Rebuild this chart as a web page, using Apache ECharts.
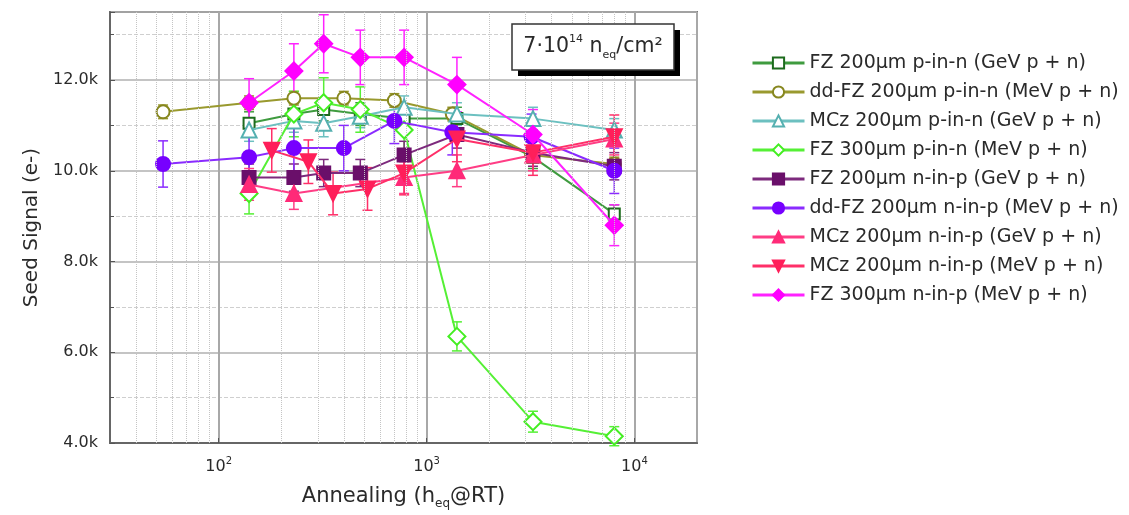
<!DOCTYPE html>
<html><head><meta charset="utf-8">
<script src="https://cdn.jsdelivr.net/npm/echarts@6/dist/echarts.min.js"></script>
<style>html,body{margin:0;padding:0;background:#fff}#c{width:1129px;height:515px}</style>
</head><body><div id="c"></div>
<script>
// ---- data (annealing time in h_eq@RT, seed signal in e-) ----
const minorX = [40,50,60,70,80,90,200,300,400,500,600,700,800,900,2000,3000,4000,5000,6000,7000,8000,9000];

const fz200pn_x = [140, 230, 320, 480, 780, 1400, 3250, 8000];
const fz200pn_y = [11050, 11250, 11350, 11250, 11150, 11150, 10300, 9050];
const fz200pn_e = [250, 250, 250, 250, 250, 250, 250, 200];

const ddfz200pn_x = [54, 140, 230, 400, 700, 1330, 3200, 8000];
const ddfz200pn_y = [11300, 11500, 11600, 11600, 11550, 11250, 10350, 10150];
const ddfz200pn_e = [150, 150, 150, 150, 150, 150, 150, 150];

const mcz200pn_x = [140, 230, 320, 480, 780, 1400, 3250, 8000];
const mcz200pn_y = [10900, 11100, 11050, 11200, 11400, 11250, 11150, 10900];
const mcz200pn_e = [250, 250, 300, 250, 250, 250, 250, 250];

const fz300pn_x = [140, 230, 320, 480, 780, 1400, 3250, 8000];
const fz300pn_y = [9500, 11250, 11500, 11350, 10900, 6350, 4470, 4150];
const fz300pn_e = [450, 500, 550, 500, 450, 320, 230, 210];

const fz200np_x = [140, 230, 320, 480, 780, 1400, 3250, 8000];
const fz200np_y = [9850, 9850, 9950, 9950, 10350, 10800, 10400, 10100];
const fz200np_e = [300, 300, 300, 300, 300, 300, 300, 300];

const ddfz200np_x = [54, 140, 230, 400, 700, 1330, 3200, 8000];
const ddfz200np_y = [10150, 10300, 10500, 10500, 11100, 10850, 10750, 10000];
const ddfz200np_e = [510, 500, 500, 500, 500, 500, 500, 500];

const mczgev_x = [140, 230, 780, 1400, 3250, 8000];
const mczgev_y = [9700, 9500, 9850, 10000, 10350, 10700];
const mczgev_e = [350, 350, 350, 350, 350, 350];

const mczmev_x = [180, 270, 355, 520, 780, 1400, 3250, 8000];
const mczmev_y = [10450, 10200, 9500, 9600, 9950, 10700, 10400, 10750];
const mczmev_e = [480, 480, 470, 470, 480, 500, 500, 480];

const fz300np_x = [140, 230, 320, 480, 780, 1400, 3250, 8000];
const fz300np_y = [11500, 12200, 12800, 12500, 12500, 11900, 10800, 8800];
const fz300np_e = [530, 600, 640, 600, 600, 600, 550, 450];

const names = [
  'FZ 200μm p-in-n (GeV p + n)',
  'dd-FZ 200μm p-in-n (MeV p + n)',
  'MCz 200μm p-in-n (GeV p + n)',
  'FZ 300μm p-in-n (MeV p + n)',
  'FZ 200μm n-in-p (GeV p + n)',
  'dd-FZ 200μm n-in-p (MeV p + n)',
  'MCz 200μm n-in-p (GeV p + n)',
  'MCz 200μm n-in-p (MeV p + n)',
  'FZ 300μm n-in-p (MeV p + n)'
];

const defs = [
  {x: fz200pn_x, y: fz200pn_y, e: fz200pn_e, line: '#3f9b3f', mark: '#1d6b1d', sym: 'emptyRect', size: 11, rot: 0},
  {x: ddfz200pn_x, y: ddfz200pn_y, e: ddfz200pn_e, line: '#99992e', mark: '#87871f', sym: 'emptyCircle', size: 13, rot: 0},
  {x: mcz200pn_x, y: mcz200pn_y, e: mcz200pn_e, line: '#6cc0c0', mark: '#55b0b0', sym: 'emptyTriangle', size: 15, rot: 0},
  {x: fz300pn_x, y: fz300pn_y, e: fz300pn_e, line: '#55f035', mark: '#44ee22', sym: 'emptyDiamond', size: 17, rot: 0},
  {x: fz200np_x, y: fz200np_y, e: fz200np_e, line: '#7d2a7d', mark: '#6a0f6a', sym: 'rect', size: 13, rot: 0},
  {x: ddfz200np_x, y: ddfz200np_y, e: ddfz200np_e, line: '#8a2bff', mark: '#7700ff', sym: 'circle', size: 14, rot: 0},
  {x: mczgev_x, y: mczgev_y, e: mczgev_e, line: '#ff3d85', mark: '#ff2a78', sym: 'triangle', size: 15, rot: 0},
  {x: mczmev_x, y: mczmev_y, e: mczmev_e, line: '#ff2f68', mark: '#ff1f5a', sym: 'triangle', size: 15, rot: 180},
  {x: fz300np_x, y: fz300np_y, e: fz300np_e, line: '#ff22ff', mark: '#ff00ff', sym: 'diamond', size: 17, rot: 0}
];

const series = [];
// minor vertical log gridlines placed through the axis scale
series.push({
  type: 'line', name: '_grid', data: [], z: 1, silent: true,
  markLine: {
    silent: true, symbol: 'none', label: {show: false},
    lineStyle: {color: '#c4c4c4', type: 'dotted', width: 1},
    animation: false,
    data: minorX.map(v => ({xAxis: v}))
  }
});

defs.forEach((d, k) => {
  const color = d.mark;
  series.push({
    type: 'custom', name: names[k] + ' err', silent: true, z: 2,
    data: d.x.map((x, i) => [x, d.y[i] - d.e[i], d.y[i] + d.e[i]]),
    encode: {x: 0, y: [1, 2]},
    renderItem: function (params, api) {
      const lo = api.coord([api.value(0), api.value(1)]);
      const hi = api.coord([api.value(0), api.value(2)]);
      const w = 5;
      const st = {stroke: d.line, lineWidth: 1.5};
      return {type: 'group', children: [
        {type: 'line', shape: {x1: lo[0], y1: lo[1], x2: hi[0], y2: hi[1]}, style: st},
        {type: 'line', shape: {x1: lo[0] - w, y1: lo[1], x2: lo[0] + w, y2: lo[1]}, style: st},
        {type: 'line', shape: {x1: hi[0] - w, y1: hi[1], x2: hi[0] + w, y2: hi[1]}, style: st}
      ]};
    }
  });
  series.push({
    type: 'line', name: names[k], z: 3 + k * 0.1,
    data: d.x.map((x, i) => [x, d.y[i]]),
    symbol: d.sym, symbolSize: d.size, symbolRotate: d.rot,
    showAllSymbol: true,
    lineStyle: {color: d.line, width: 2},
    itemStyle: {color: color, borderColor: color, borderWidth: 2}
  });
});

const chart = echarts.init(document.getElementById('c'), null, {renderer: 'canvas'});
const FONT = 'DejaVu Sans, Verdana, sans-serif';
chart.setOption({
  animation: false,
  backgroundColor: '#fff',
  textStyle: {fontFamily: FONT},
  grid: {left: 110, right: 432, top: 12, bottom: 72, show: true, borderColor: '#7a7a7a', borderWidth: 2, backgroundColor: 'transparent'},
  legend: {
    orient: 'vertical', left: 746, top: 48,
    data: names,
    itemWidth: 52, itemHeight: 14, itemGap: 9,
    lineStyle: {width: 3},
    textStyle: {fontFamily: FONT, fontSize: 19, color: '#2a2a2a', lineHeight: 20},
    selectedMode: false
  },
  xAxis: {
    type: 'log', logBase: 10, min: 30, max: 20000,
    name: '{a|Annealing (h}{b|eq}{a|@RT)}',
    nameLocation: 'middle', nameGap: 41,
    nameTextStyle: {rich: {
      a: {fontFamily: FONT, fontSize: 21, color: '#2a2a2a', lineHeight: 26},
      b: {fontFamily: FONT, fontSize: 12, color: '#2a2a2a', verticalAlign: 'bottom'}
    }},
    axisLine: {show: true, lineStyle: {color: '#666', width: 2}},
    axisTick: {show: true, inside: true, length: 5, lineStyle: {color: '#555'}},
    axisLabel: {
      margin: 13, showMinLabel: false, showMaxLabel: false,
      formatter: function (v) {
        const e = Math.log10(v);
        if (Math.abs(e - Math.round(e)) < 1e-6) return '{b|10}{s|' + Math.round(e) + '}';
        return '';
      },
      rich: {
        b: {fontFamily: FONT, fontSize: 16, color: '#2a2a2a', lineHeight: 22},
        s: {fontFamily: FONT, fontSize: 10, color: '#2a2a2a', verticalAlign: 'top'}
      }
    },
    splitLine: {show: true, lineStyle: {color: '#a8a8a8', width: 2}}
  },
  yAxis: {
    type: 'value', min: 4000, max: 13500, interval: 2000,
    name: 'Seed Signal (e-)', nameLocation: 'middle', nameGap: 62,
    nameTextStyle: {fontFamily: FONT, fontSize: 20, color: '#2a2a2a'},
    axisLine: {show: true, lineStyle: {color: '#666', width: 2}},
    axisTick: {show: true, inside: true, length: 5, lineStyle: {color: '#555'}},
    minorTick: {show: true, splitNumber: 2, length: 4, lineStyle: {color: '#555'}},
    axisLabel: {
      fontFamily: FONT, fontSize: 16, color: '#2a2a2a', margin: 12, showMaxLabel: false,
      formatter: v => (v > 13000 ? '' : (v / 1000).toFixed(1) + 'k')
    },
    splitLine: {show: true, lineStyle: {color: '#b0b0b0', width: 1.5}},
    minorSplitLine: {show: true, lineStyle: {color: '#cfcfcf', type: 'dashed', width: 1}}
  },
  graphic: [
    {type: 'rect', shape: {x: 518, y: 30, width: 162, height: 46}, style: {fill: '#000'}, z: 100},
    {type: 'rect', shape: {x: 512, y: 24, width: 162, height: 46}, style: {fill: '#fff', stroke: '#333', lineWidth: 1.5}, z: 101},
    {type: 'text', x: 593, y: 47, z: 102, style: {
      text: '{a|7·10}{s|14}{a| n}{b|eq}{a|/cm²}',
      align: 'center', verticalAlign: 'middle',
      rich: {
        a: {fontFamily: FONT, fontSize: 20.5, fill: '#2a2a2a', lineHeight: 27},
        s: {fontFamily: FONT, fontSize: 11, fill: '#2a2a2a', verticalAlign: 'top'},
        b: {fontFamily: FONT, fontSize: 11, fill: '#2a2a2a', verticalAlign: 'bottom'}
      }
    }}
  ],
  series: series
});
</script></body></html>
